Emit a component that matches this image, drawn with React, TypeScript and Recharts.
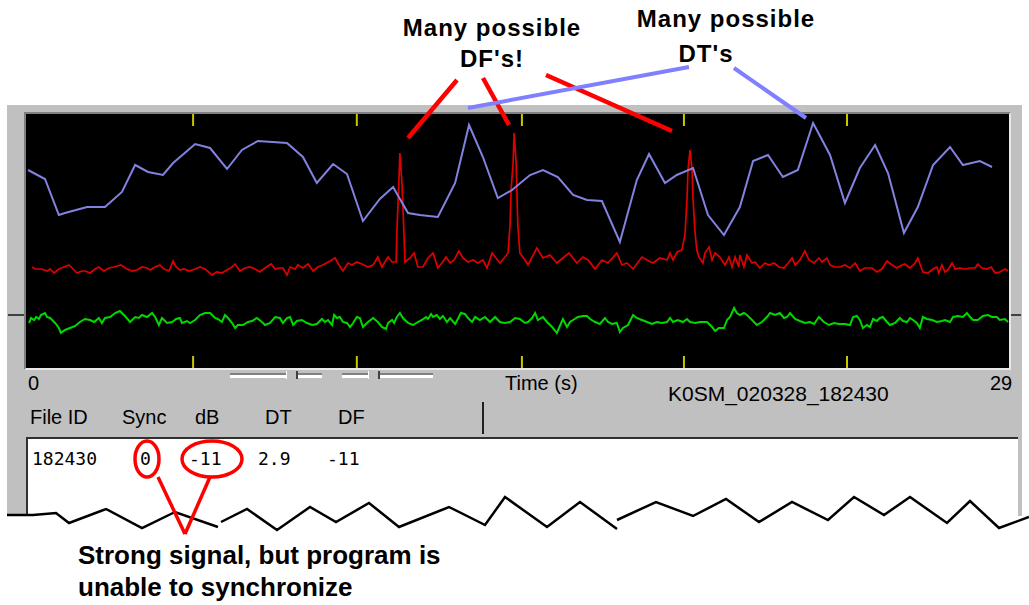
import React from "react";
import { LineChart, Line, XAxis, YAxis, ReferenceLine } from "recharts";

// time (s) vs level
const blueTrace: [number, number][] = [
  [0.06, 198], [0.56, 189], [0.97, 153], [1.15, 155], [1.8, 161], [2.33, 161], [2.83, 176], [3.22, 203],
  [3.6, 196], [4.04, 193], [4.34, 205], [4.99, 224], [5.43, 220], [5.93, 199], [6.37, 218], [6.84, 227],
  [7.7, 225], [8.17, 211], [8.58, 185], [9.06, 204], [9.47, 194], [9.94, 147], [10.44, 169], [10.83, 181],
  [11.27, 155], [11.62, 153], [12.15, 151], [12.66, 185], [13.07, 243], [13.48, 211], [13.92, 170], [14.34, 178],
  [14.87, 193], [15.25, 198], [15.69, 191], [16.14, 173], [16.55, 168], [16.99, 167], [17.52, 126], [18.02, 188],
  [18.38, 214], [18.85, 185], [19.2, 193], [19.68, 200], [20.12, 153], [20.59, 133], [21.06, 161], [21.45, 207],
  [21.89, 213], [22.33, 191], [22.77, 198], [23.22, 245], [23.72, 213], [24.16, 165], [24.6, 200], [25.05, 223],
  [25.43, 195], [25.9, 135], [26.31, 161], [26.76, 203], [27.26, 221], [27.64, 203], [28.14, 207], [28.5, 201],
];

const redTrace: [number, number][] = [
  [0.18, 101], [0.27, 99], [0.47, 99], [0.62, 97], [0.71, 99], [0.83, 95], [0.97, 99], [1.12, 101], [1.27, 103],
  [1.36, 100], [1.5, 95], [1.65, 97], [1.74, 97], [1.89, 95], [2.04, 99], [2.15, 101], [2.3, 97], [2.45, 100],
  [2.6, 101], [2.8, 103], [2.98, 99], [3.13, 97], [3.27, 98], [3.42, 101], [3.57, 100], [3.66, 98], [3.81, 101],
  [3.95, 103], [4.07, 99], [4.22, 97], [4.34, 107], [4.43, 101], [4.54, 98], [4.66, 99], [4.81, 97],
  [4.99, 99], [5.13, 101], [5.28, 99], [5.49, 93], [5.63, 96], [5.78, 95], [5.93, 98], [6.08, 101], [6.17, 104],
  [6.31, 97], [6.46, 100], [6.61, 101], [6.76, 99], [6.9, 96], [7.05, 100], [7.23, 104], [7.35, 99], [7.49, 100],
  [7.58, 100], [7.7, 93], [7.79, 101], [7.94, 99], [8.02, 103], [8.17, 100], [8.32, 104], [8.47, 97], [8.61, 101],
  [8.76, 103], [8.97, 107], [9.12, 110], [9.2, 105], [9.35, 97], [9.5, 105], [9.62, 103], [9.76, 106],
  [9.91, 104], [10.09, 101], [10.24, 103], [10.38, 111], [10.5, 101], [10.68, 111], [10.8, 106], [10.92, 106],
  [10.94, 135], [11.0, 186], [11.03, 215], [11.09, 186], [11.15, 135], [11.18, 106], [11.33, 110], [11.45, 115],
  [11.56, 101], [11.71, 101], [11.86, 110], [12.01, 115], [12.15, 100], [12.27, 105], [12.39, 111], [12.51, 105],
  [12.63, 108], [12.77, 117], [12.89, 110], [13.04, 106], [13.19, 108], [13.33, 105], [13.48, 108], [13.6, 100],
  [13.75, 115], [13.84, 111], [13.98, 105], [14.13, 111], [14.22, 115], [14.28, 143], [14.31, 178], [14.37, 205],
  [14.4, 235], [14.46, 205], [14.48, 178], [14.51, 143], [14.57, 115], [14.72, 108], [14.81, 103], [15.07, 120],
  [15.25, 110], [15.46, 113], [15.66, 105], [15.84, 110], [16.02, 115], [16.25, 105], [16.43, 111], [16.58, 108],
  [16.79, 99], [16.99, 108], [17.17, 105], [17.43, 115], [17.58, 103], [17.73, 105], [17.91, 99], [18.17, 111],
  [18.32, 108], [18.5, 105], [18.7, 110], [18.91, 108], [19.0, 115], [19.09, 108], [19.21, 116], [19.35, 118],
  [19.44, 133], [19.5, 168], [19.53, 198], [19.59, 218], [19.65, 198], [19.68, 168], [19.74, 135], [19.79, 118],
  [19.85, 111], [19.97, 105], [20.03, 115], [20.15, 121], [20.24, 108], [20.33, 115], [20.47, 111], [20.62, 103],
  [20.74, 111], [20.83, 101], [20.92, 111], [21.03, 101], [21.06, 113], [21.18, 101], [21.27, 113], [21.42, 105],
  [21.51, 106], [21.65, 100], [21.8, 105], [21.92, 103], [22.07, 105], [22.21, 101], [22.36, 100], [22.51, 106],
  [22.6, 110], [22.69, 103], [22.83, 108], [22.98, 117], [23.1, 108], [23.25, 105], [23.39, 110], [23.48, 106],
  [23.63, 110], [23.72, 103], [23.87, 101], [24.01, 101], [24.16, 103], [24.31, 100], [24.46, 105], [24.6, 97],
  [24.75, 100], [24.96, 100], [25.1, 96], [25.25, 99], [25.4, 107], [25.55, 103], [25.69, 100], [25.84, 103],
  [25.93, 104], [26.08, 100], [26.23, 105], [26.31, 110], [26.46, 96], [26.61, 95], [26.76, 99], [26.87, 101],
  [26.93, 95], [27.02, 103], [27.11, 96], [27.2, 98], [27.32, 105], [27.41, 99], [27.55, 100], [27.7, 99],
  [27.85, 100], [28.0, 100], [28.08, 104], [28.2, 100], [28.35, 99], [28.47, 101], [28.59, 95], [28.73, 96],
  [28.88, 99], [28.97, 97],
];

const greenTrace: [number, number][] = [
  [0.09, 45], [0.15, 50], [0.24, 48], [0.3, 51], [0.38, 49], [0.44, 53], [0.56, 55], [0.62, 51], [0.71, 50],
  [0.86, 45], [0.97, 40], [1.03, 35], [1.15, 38], [1.3, 40], [1.45, 42], [1.59, 46], [1.74, 49], [1.89, 48],
  [2.01, 46], [2.15, 50], [2.24, 45], [2.33, 50], [2.48, 51], [2.63, 55], [2.77, 57], [2.92, 52], [3.07, 46],
  [3.22, 51], [3.33, 50], [3.42, 53], [3.57, 51], [3.72, 55], [3.81, 51], [3.92, 43], [4.01, 50], [4.16, 45],
  [4.31, 46], [4.43, 49], [4.54, 50], [4.6, 45], [4.75, 47], [4.84, 45], [4.99, 48], [5.13, 53], [5.28, 55],
  [5.43, 55], [5.58, 50], [5.66, 49], [5.78, 46], [5.87, 53], [5.96, 50], [6.08, 45], [6.17, 40], [6.25, 43],
  [6.4, 43], [6.55, 46], [6.67, 47], [6.81, 50], [6.96, 46], [7.05, 43], [7.2, 45], [7.35, 51], [7.49, 50],
  [7.58, 45], [7.7, 50], [7.79, 51], [7.88, 43], [7.99, 47], [8.14, 48], [8.29, 45], [8.44, 43], [8.58, 44],
  [8.73, 49], [8.82, 46], [8.91, 48], [9.03, 43], [9.09, 53], [9.17, 50], [9.26, 51], [9.35, 46], [9.47, 45],
  [9.56, 41], [9.65, 45], [9.76, 51], [9.85, 50], [9.94, 41], [10.09, 46], [10.24, 50], [10.38, 46], [10.5, 41],
  [10.62, 39], [10.68, 45], [10.8, 48], [10.86, 45], [10.94, 51], [11.03, 55], [11.12, 50], [11.27, 45],
  [11.42, 43], [11.56, 46], [11.68, 48], [11.8, 51], [11.86, 49], [11.95, 54], [12.01, 51], [12.12, 53],
  [12.21, 49], [12.3, 52], [12.42, 46], [12.51, 50], [12.66, 44], [12.74, 49], [12.83, 55], [12.95, 54],
  [13.04, 50], [13.16, 46], [13.25, 51], [13.39, 48], [13.54, 51], [13.69, 46], [13.84, 51], [13.98, 46],
  [14.13, 45], [14.28, 46], [14.43, 50], [14.57, 49], [14.72, 45], [14.81, 46], [14.93, 50], [15.02, 55],
  [15.1, 48], [15.25, 51], [15.37, 46], [15.52, 41], [15.66, 35], [15.75, 42], [15.84, 49], [15.96, 41],
  [16.05, 46], [16.14, 48], [16.28, 51], [16.43, 52], [16.55, 52], [16.64, 49], [16.79, 46], [16.93, 44],
  [17.08, 50], [17.17, 46], [17.29, 44], [17.43, 45], [17.52, 36], [17.61, 40], [17.76, 43], [17.91, 53],
  [18.02, 50], [18.17, 48], [18.32, 46], [18.47, 44], [18.61, 46], [18.76, 45], [18.91, 46], [19.0, 50],
  [19.09, 46], [19.23, 48], [19.38, 46], [19.5, 49], [19.59, 46], [19.74, 45], [19.88, 46], [20.09, 46],
  [20.24, 41], [20.33, 37], [20.44, 40], [20.59, 40], [20.68, 48], [20.77, 51], [20.89, 60], [20.97, 55],
  [21.06, 53], [21.18, 55], [21.27, 53], [21.42, 48], [21.56, 43], [21.71, 46], [21.86, 51], [21.95, 55],
  [22.1, 53], [22.24, 55], [22.36, 50], [22.45, 51], [22.54, 55], [22.69, 49], [22.83, 47], [22.98, 45],
  [23.13, 46], [23.25, 44], [23.39, 51], [23.54, 46], [23.69, 43], [23.84, 45], [23.98, 44], [24.16, 44],
  [24.31, 43], [24.4, 51], [24.51, 52], [24.6, 48], [24.69, 40], [24.81, 43], [24.9, 41], [24.99, 49],
  [25.1, 47], [25.19, 50], [25.28, 51], [25.4, 46], [25.49, 43], [25.64, 45], [25.78, 50], [25.87, 47],
  [25.99, 46], [26.08, 50], [26.17, 48], [26.28, 45], [26.37, 40], [26.46, 51], [26.58, 49], [26.73, 48],
  [26.87, 46], [27.02, 47], [27.11, 48], [27.26, 46], [27.35, 51], [27.49, 52], [27.64, 51], [27.76, 55],
  [27.85, 51], [27.94, 48], [28.08, 48], [28.23, 52], [28.38, 53], [28.5, 51], [28.64, 51], [28.73, 48],
  [28.88, 49], [28.97, 46],
];

const tickTimes = [4.93, 9.76, 14.63, 19.41, 24.22];
const headers = ["File ID", "Sync", "dB", "DT", "DF"];
const rowValues = ["182430", "0", "-11", "2.9", "-11"];
const fileName = "K0SM_020328_182430";

const toRows = (tr: [number, number][]) => tr.map(([t, v]) => ({ t, v }));

const headerX = [30, 122, 195, 265, 338];
const rowX = [32, 140, 189, 258, 327];

const label: React.CSSProperties = {
  position: "absolute",
  fontSize: 20,
  lineHeight: "20px",
  whiteSpace: "nowrap",
  color: "#000",
};

const note: React.CSSProperties = {
  position: "absolute",
  width: 220,
  textAlign: "center",
  fontWeight: "bold",
  fontSize: 24,
  lineHeight: "24px",
  letterSpacing: 1,
  whiteSpace: "nowrap",
};

const zig =
  "M7,515 33,515 56,513 69,523 106,509 142,528 175,512 218,527 M221,522 247,509 277,530 310,507 336,522 369,503 399,527 449,507 485,525 505,497 547,527 580,502 617,529 M617,520 656,502 693,516 726,499 759,522 792,502 828,520 854,497 884,515 910,497 947,523 970,501 999,528 1029,517";

const App: React.FC = () => {
  return (
    <div
      style={{
        position: "absolute",
        left: 0,
        top: 0,
        width: 1029,
        height: 605,
        background: "#fff",
        overflow: "hidden",
        fontFamily: "'Liberation Sans', Arial, sans-serif",
      }}
    >
      {/* gray window panel */}
      <div style={{ position: "absolute", left: 7, top: 105, width: 1015, height: 411, background: "#c0c0c0" }} />
      <div style={{ position: "absolute", left: 8, top: 314, width: 16, height: 2, background: "#404040" }} />
      <div style={{ position: "absolute", left: 1011, top: 314, width: 10, height: 2, background: "#404040" }} />

      {/* plot */}
      <div
        style={{
          position: "absolute",
          left: 24,
          top: 112,
          width: 983,
          height: 254,
          borderStyle: "solid",
          borderWidth: 2,
          borderColor: "#808080 #e8e8e8 #e8e8e8 #808080",
          background: "#000",
        }}
      >
        <LineChart width={983} height={254} margin={{ top: 0, right: 0, bottom: 0, left: 0 }}>
          <XAxis type="number" dataKey="t" domain={[0, 29]} hide allowDataOverflow />
          <YAxis type="number" domain={[0, 254]} hide allowDataOverflow />
          {tickTimes.map((t) => (
            <ReferenceLine key={"b" + t} segment={[{ x: t, y: 0 }, { x: t, y: 12 }]} stroke="#c8c800" strokeWidth={2} />
          ))}
          {tickTimes.map((t) => (
            <ReferenceLine key={"t" + t} segment={[{ x: t, y: 242 }, { x: t, y: 254 }]} stroke="#c8c800" strokeWidth={2} />
          ))}
          <Line data={toRows(greenTrace)} dataKey="v" type="linear" stroke="#00d800" strokeWidth={2} dot={false} isAnimationActive={false} />
          <Line data={toRows(redTrace)} dataKey="v" type="linear" stroke="#e00000" strokeWidth={1.7} dot={false} isAnimationActive={false} />
          <Line data={toRows(blueTrace)} dataKey="v" type="linear" stroke="#8282e0" strokeWidth={2} dot={false} isAnimationActive={false} />
        </LineChart>
      </div>

      {/* axis labels and sliders */}
      <div style={{ ...label, left: 28, top: 373 }}>0</div>
      <div style={{ ...label, left: 505, top: 373 }}>Time (s)</div>
      <div style={{ ...label, left: 990, top: 373 }}>29</div>
      <div style={{ ...label, left: 668, top: 384, fontSize: 21 }}>{fileName}</div>
      <div style={{ position: "absolute", left: 230, top: 373, width: 92, height: 3, borderTop: "2px solid #808080", background: "#fff" }} />
      <div style={{ position: "absolute", left: 342, top: 373, width: 91, height: 3, borderTop: "2px solid #808080", background: "#fff" }} />
      <div style={{ position: "absolute", left: 286, top: 371, width: 9, height: 8, background: "#c0c0c0", borderRight: "2px solid #404040", borderLeft: "1px solid #fff" }} />
      <div style={{ position: "absolute", left: 368, top: 371, width: 9, height: 8, background: "#c0c0c0", borderRight: "2px solid #404040", borderLeft: "1px solid #fff" }} />

      {headers.map((h, i) => (
        <div key={h} style={{ ...label, left: headerX[i], top: 407 }}>{h}</div>
      ))}
      <div style={{ position: "absolute", left: 482, top: 402, width: 2, height: 32, background: "#202020" }} />

      {/* decode list */}
      <div
        style={{
          position: "absolute",
          left: 26,
          top: 437,
          width: 990,
          height: 77,
          background: "#fff",
          borderTop: "2px solid #303030",
          borderLeft: "2px solid #303030",
        }}
      />
      {rowValues.map((v, i) => (
        <div key={i} style={{ ...label, left: rowX[i], top: 449, fontFamily: "'DejaVu Sans Mono', monospace", fontSize: 18 }}>
          {v}
        </div>
      ))}

      {/* torn edge and callouts */}
      <svg width={1029} height={605} style={{ position: "absolute", left: 0, top: 0 }}>
        <path d={zig} fill="none" stroke="#000" strokeWidth={2.5} strokeLinejoin="miter" />
        <g stroke="#ff0000" strokeWidth={4.5} strokeLinecap="butt" fill="none">
          <line x1={457} y1={80} x2={408} y2={138} />
          <line x1={483} y1={78} x2={509} y2={125} />
          <line x1={546} y1={75} x2={672} y2={131} />
        </g>
        <g stroke="#8080ff" strokeWidth={4} fill="none">
          <line x1={689} y1={67} x2={468} y2={108} />
          <line x1={734} y1={68} x2={806} y2={118} />
        </g>
        <g stroke="#ff0000" strokeWidth={3.5} fill="none">
          <ellipse cx={147} cy={459} rx={12} ry={18} />
          <ellipse cx={212} cy={459} rx={30} ry={18} />
          <line x1={158} y1={477} x2={185} y2={534} />
          <line x1={210} y1={477} x2={185} y2={534} />
        </g>
      </svg>

      <div style={{ ...note, left: 382, top: 16 }}>Many possible</div>
      <div style={{ ...note, left: 382, top: 47 }}>DF's!</div>
      <div style={{ ...note, left: 616, top: 7 }}>Many possible</div>
      <div style={{ ...note, left: 596, top: 42 }}>DT's</div>
      <div
        style={{
          position: "absolute",
          left: 78,
          top: 539,
          fontWeight: "bold",
          fontSize: 26,
          lineHeight: "32px",
          whiteSpace: "nowrap",
        }}
      >
        Strong signal, but program is
        <br />
        unable to synchronize
      </div>
    </div>
  );
};

export default App;
